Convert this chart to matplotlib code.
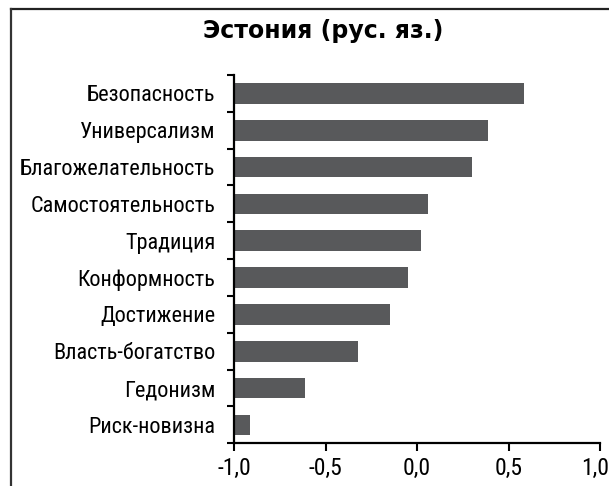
import numpy as np
import matplotlib
matplotlib.use("Agg")
import matplotlib.pyplot as plt
import matplotlib.transforms as mtransforms
from matplotlib.lines import Line2D

# --- Data (bottom to top) ---
categories = ["Риск-новизна", "Гедонизм", "Власть-богатство", "Достижение",
              "Конформность", "Традиция", "Самостоятельность",
              "Благожелательность", "Универсализм", "Безопасность"]
values = [-0.91, -0.61, -0.32, -0.15, -0.05, 0.02, 0.06, 0.30, 0.39, 0.585]
x_ticks = [-1.0, -0.5, 0.0, 0.5, 1.0]
x_labels = ["-1,0", "-0,5", "0,0", "0,5", "1,0"]
title = "Эстония (рус. яз.)"

narrow = ["Liberation Sans Narrow", "Roboto Condensed", "DejaVu Sans"]
plt.rcParams['font.family'] = narrow

fig = plt.figure(figsize=(6.09, 4.86), dpi=100)
ax = fig.add_axes([234 / 609, 1 - 443.3 / 486, 366 / 609, 368.3 / 486])

base = -1.0
y = np.arange(len(categories))
ax.barh(y, np.array(values) - base, left=base, height=0.56,
        color="#58595b", edgecolor="none")

ax.set_xlim(-1.0, 1.0)
ax.set_ylim(-0.5, len(categories) - 0.5)

# category boundaries get the ticks, centres get the labels
ax.set_yticks(np.arange(-0.5, len(categories), 1.0))
ax.set_yticklabels([])
ax.set_yticks(y, minor=True)
ax.set_yticklabels(categories, minor=True, fontsize=16)
ax.tick_params(axis="y", which="major", direction="out", length=5, width=1.5)
ax.tick_params(axis="y", which="minor", length=0, pad=13.5)

ax.set_xticks(x_ticks)
ax.set_xticklabels(x_labels, fontsize=17)
ax.tick_params(axis="x", direction="out", length=5.5, width=1.5, pad=4)
# last label sits a bit left in the original so it stays inside the picture
last = ax.get_xticklabels()[-1]
last.set_transform(last.get_transform() +
                   mtransforms.ScaledTranslation(-5 / 100, 0, fig.dpi_scale_trans))

for s in ["top", "right"]:
    ax.spines[s].set_visible(False)
for s in ["left", "bottom"]:
    ax.spines[s].set_linewidth(1.6)
    ax.spines[s].set_color("black")

fig.text(323 / 609, 1 - 31 / 486, title, ha="center", va="center",
         fontsize=17, fontweight="bold", family=["DejaVu Sans"])

# partial frame around the figure (top and left edges)
fig.add_artist(Line2D([11 / 609, 1.0], [1 - 9 / 486, 1 - 9 / 486],
                      transform=fig.transFigure, color="#222222", lw=1.6))
fig.add_artist(Line2D([11 / 609, 11 / 609], [0.0, 1 - 9 / 486],
                      transform=fig.transFigure, color="#333333", lw=1.6))

fig.savefig("out.png", dpi=100)
